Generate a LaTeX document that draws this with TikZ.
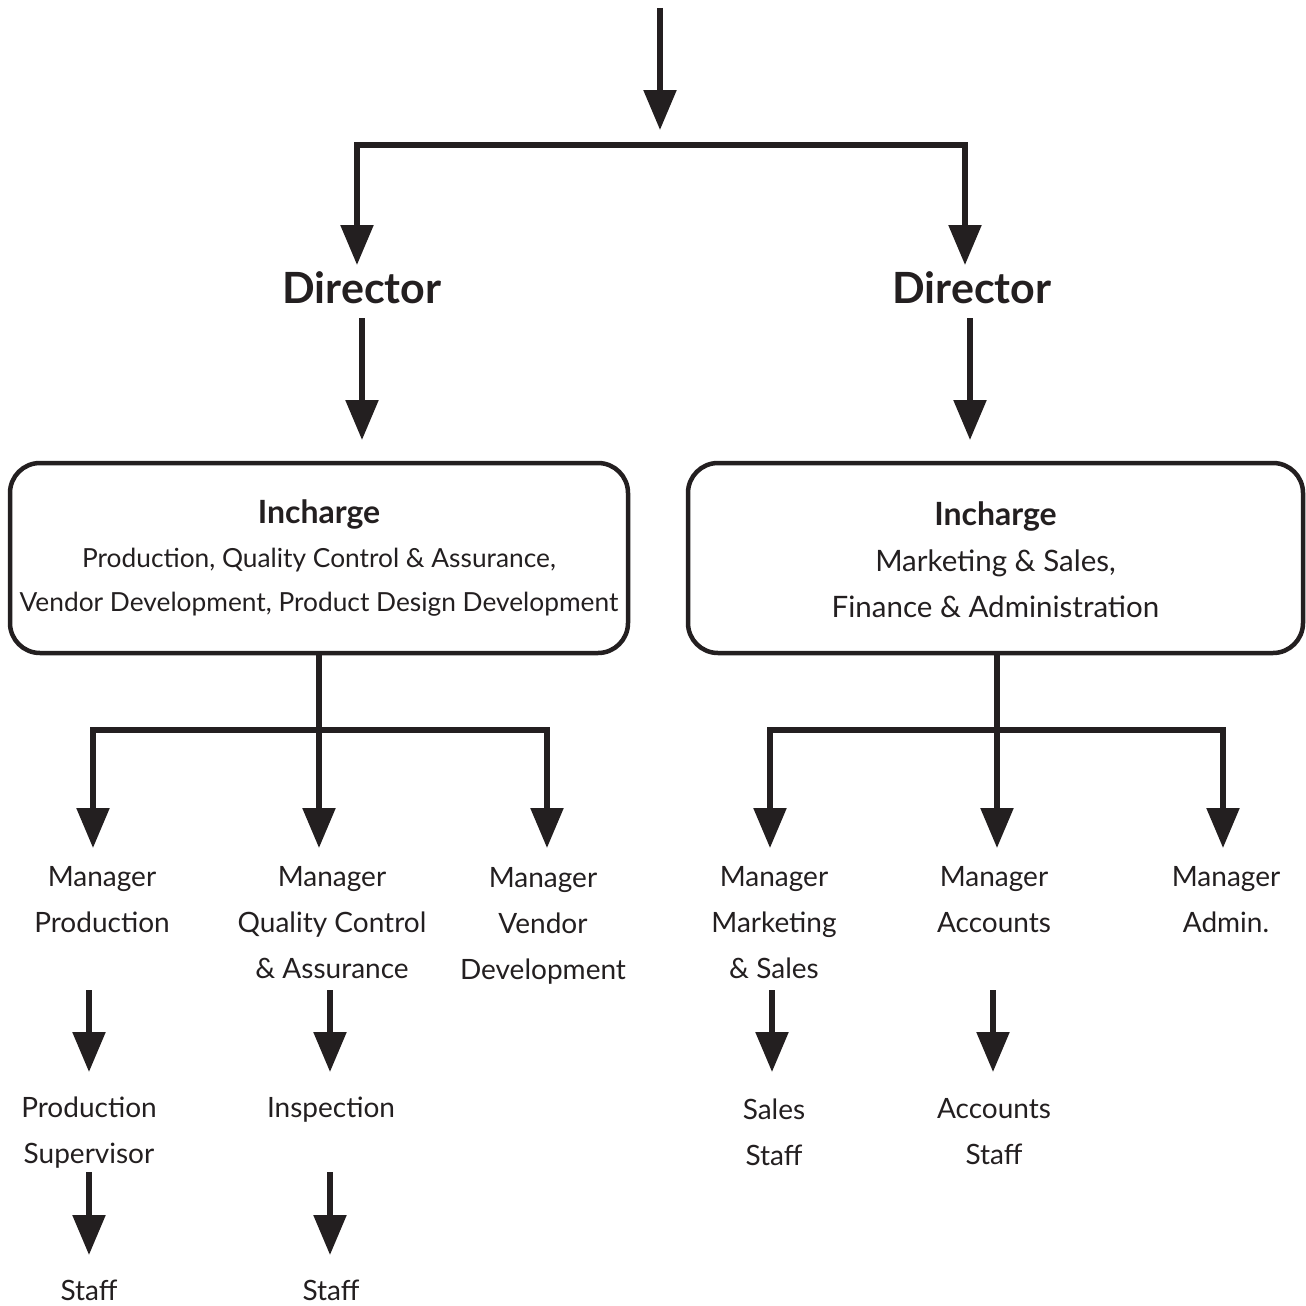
\documentclass[tikz,border=0pt]{standalone}
\usepackage{fontspec}
\setmainfont{Lato}
\usetikzlibrary{arrows.meta}
\definecolor{ink}{HTML}{231F20}
\begin{document}
\begin{tikzpicture}[x=1pt,y=-1pt,
  ink/.style={draw=ink,line width=5.5pt},
  arr/.style={ink,-{Triangle[width=32pt,length=40pt]}},
  arrboth/.style={ink,line join=miter,{Triangle[width=32pt,length=40pt]}-{Triangle[width=32pt,length=40pt]}},
  dir/.style={font=\fontsize{43}{48}\bfseries\selectfont,text=ink,inner sep=0pt},
  box/.style={draw=ink,line width=4.5pt,rounded corners=30pt,minimum height=190pt,align=center,text=ink,inner sep=0pt},
  btext/.style={align=center,text=ink,inner sep=0pt},
  lbl/.style={align=center,text=ink,font=\fontsize{28}{46}\selectfont,inner sep=0pt}]
\useasboundingbox (0,0) rectangle (1306,1306);

% top
\coordinate (top) at (660,8);
\coordinate (topt) at (660,130);
\draw[arr] (top) -- (topt);
\coordinate (dt1) at (357,265);
\coordinate (dt2) at (965,265);
\draw[arrboth] (dt1) -- (357,145) -- (965,145) -- (dt2);

% directors
\node[dir] (d1) at (362,288) {Director};
\node[dir] (d2) at (972,288) {Director};

% boxes
\node[box,minimum width=618pt,font=\fontsize{26.3}{44}\selectfont] (b1) at (319,558)
  {{\fontsize{32}{44}\bfseries\selectfont Incharge}\\Production, Quality Control \& Assurance,\\Vendor Development, Product Design Development};
\node[box,minimum width=615pt] (b2) at (995.5,558) {};
\node[btext,font=\fontsize{29.5}{46}\selectfont] (b2t) at (995.5,560)
  {{\fontsize{32}{46}\bfseries\selectfont Incharge}\\Marketing \& Sales,\\Finance \& Administration};

\coordinate (d1s) at (362,318); \coordinate (d1e) at (362,440);
\coordinate (d2s) at (970,318); \coordinate (d2e) at (970,440);
\draw[arr] (d1s) -- (d1e);
\draw[arr] (d2s) -- (d2e);

% managers
\node[lbl] (m1) at (102,900) {Manager\\Production};
\node[lbl] (m2) at (332,923) {Manager\\Quality Control\\\& Assurance};
\node[lbl] (m3) at (543,926) {Manager\\Vendor\\Development};
\node[lbl] (m4) at (774,923) {Manager\\Marketing\\\& Sales};
\node[lbl] (m5) at (994,900) {Manager\\Accounts};
\node[lbl] (m6) at (1226,900) {Manager\\Admin.};

\coordinate (l1) at (93,848);
\coordinate (l2) at (319,848);
\coordinate (l3) at (547,848);
\draw[arrboth] (l1) -- (93,730) -- (547,730) -- (l3);
\draw[arr] (b1.south -| l2) -- (l2);

\coordinate (r1) at (770,848);
\coordinate (r2) at (997,848);
\coordinate (r3) at (1223,848);
\draw[arrboth] (r1) -- (770,730) -- (1223,730) -- (r3);
\draw[arr] (b2.south -| r2) -- (r2);

% second level
\node[lbl] (s1) at (89,1133) {Production\\Supervisor};
\node[lbl] (s2) at (331,1110) {Inspection};
\node[lbl] (s3) at (774,1132) {Sales\\Staff};
\node[lbl] (s4) at (994,1132) {Accounts\\Staff};

\coordinate (a1s) at (89,990);  \coordinate (a1e) at (89,1072);
\coordinate (a2s) at (330,990); \coordinate (a2e) at (330,1072);
\coordinate (a3s) at (772,990); \coordinate (a3e) at (772,1072);
\coordinate (a4s) at (993,990); \coordinate (a4e) at (993,1072);
\draw[arr] (a1s) -- (a1e);
\draw[arr] (a2s) -- (a2e);
\draw[arr] (a3s) -- (a3e);
\draw[arr] (a4s) -- (a4e);

% third level
\node[lbl] (f1) at (89,1290) {Staff};
\node[lbl] (f2) at (331,1290) {Staff};
\coordinate (c1s) at (89,1172);  \coordinate (c1e) at (89,1255);
\coordinate (c2s) at (330,1172); \coordinate (c2e) at (330,1255);
\draw[arr] (c1s) -- (c1e);
\draw[arr] (c2s) -- (c2e);
\end{tikzpicture}
\end{document}
